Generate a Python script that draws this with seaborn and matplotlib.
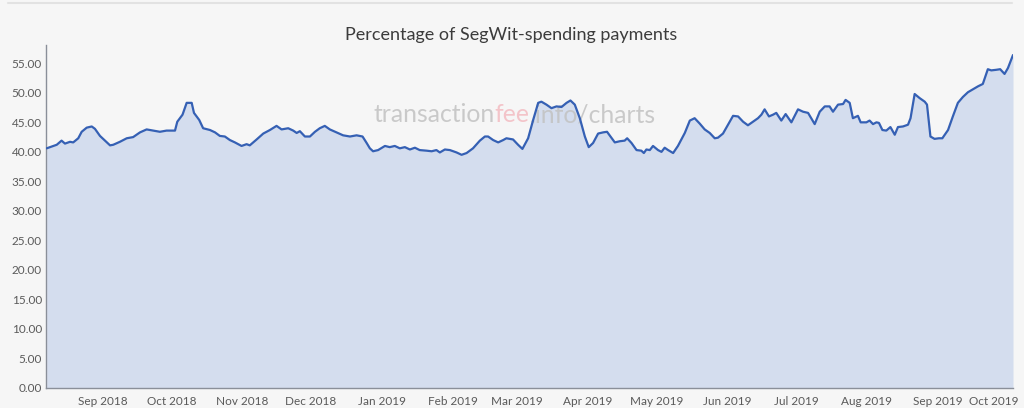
import matplotlib
matplotlib.use("Agg")
import matplotlib.pyplot as plt
import matplotlib.dates as mdates
from matplotlib.lines import Line2D
from matplotlib.transforms import ScaledTranslation
import seaborn as sns
import pandas as pd
import numpy as np

# days counted from 2018-09-01
day_offsets = [
    -24.6, -22.4, -20.2, -18.1, -16.6, -14.4, -13.0, -10.8, -9.3, -7.1, -4.9, -3.5, -1.3,
    0.9, 3.1, 4.5, 7.4, 10.4, 13.2, 16.2, 19.1, 22.0, 24.9, 27.8, 31.5, 32.5, 34.8, 36.6,
    38.8, 39.8, 42.1, 43.8, 46.8, 49.0, 51.1, 53.3, 55.5, 57.7, 60.6, 62.8, 64.2, 67.2,
    70.1, 73.0, 75.9, 78.1, 81.0, 83.2, 84.7, 86.1, 88.3, 90.5, 92.7, 94.8, 97.0, 99.2,
    102.1, 105.0, 108.0, 110.9, 113.5, 115.3, 116.7, 118.1, 120.3, 123.3, 125.4, 127.6,
    129.8, 132.0, 134.2, 136.4, 138.5, 141.5, 143.7, 145.8, 147.3, 149.5, 151.7, 154.6,
    156.8, 159.0, 161.8, 164.8, 167.0, 168.4, 170.6, 172.8, 175.0, 176.4, 179.3, 181.5,
    183.4, 185.9, 188.1, 190.3, 191.7, 193.9, 196.1, 198.3, 200.5, 202.7, 204.4, 206.3,
    208.5, 210.7, 212.4, 214.3, 216.5, 218.7, 220.4, 221.9, 223.8, 226.0, 228.1, 229.2,
    231.1, 233.3, 235.4, 236.5, 237.6, 239.1, 240.5, 242.7, 244.2, 245.6, 247.1, 249.3,
    251.4, 254.4, 256.6, 258.7, 260.9, 263.1, 265.3, 267.5, 268.9, 271.1, 273.3, 275.5,
    277.7, 279.9, 282.0, 284.2, 286.4, 287.9, 289.3, 291.2, 293.0, 294.4, 296.6, 298.5,
    301.0, 303.9, 306.1, 308.3, 311.2, 313.4, 315.6, 317.7, 319.2, 321.4, 323.6, 324.7,
    326.5, 327.9, 330.1, 331.3, 333.8, 335.2, 336.7, 338.2, 339.3, 340.8, 342.5, 344.3,
    346.2, 347.6, 349.8, 352.0, 353.1, 354.9, 357.1, 359.3, 360.3, 361.8, 363.6, 365.5,
    367.0, 369.5, 371.6, 373.8, 376.0, 378.2, 380.4, 382.6, 384.7, 386.9, 388.4, 390.6,
    392.3, 394.2, 395.7, 397.9,
]
segwit_pct = [
    40.6, 40.9, 41.2, 41.9, 41.4, 41.7, 41.6, 42.3, 43.4, 44.1, 44.3, 43.9, 42.7,
    41.9, 41.1, 41.2, 41.7, 42.3, 42.5, 43.3, 43.8, 43.6, 43.4, 43.6, 43.6, 45.1, 46.3, 48.3,
    48.3, 46.6, 45.4, 44.0, 43.7, 43.3, 42.7, 42.6, 42.0, 41.6, 41.0, 41.3, 41.1, 42.1,
    43.1, 43.7, 44.4, 43.8, 44.0, 43.6, 43.2, 43.5, 42.6, 42.6, 43.4, 44.0, 44.4, 43.8,
    43.3, 42.8, 42.6, 42.8, 42.6, 41.5, 40.6, 40.1, 40.3, 41.0, 40.8, 41.0,
    40.6, 40.8, 40.4, 40.7, 40.3, 40.2, 40.1, 40.3, 39.9, 40.4, 40.3, 39.9,
    39.5, 39.8, 40.6, 41.9, 42.6, 42.6, 42.0, 41.6, 42.0, 42.3, 42.1, 41.2,
    40.5, 42.3, 45.4, 48.3, 48.5, 48.0, 47.4, 47.7, 47.6, 48.3, 48.7, 48.0,
    45.7, 42.6, 40.8, 41.5, 43.1, 43.3, 43.4, 42.6, 41.6, 41.8, 41.9, 42.3,
    41.5, 40.3, 40.2, 39.8, 40.4, 40.3, 41.0, 40.3, 40.0, 40.7, 40.3, 39.8,
    41.0, 43.2, 45.3, 45.7, 44.8, 43.8, 43.2, 42.3, 42.4, 43.1, 44.6, 46.1,
    46.0, 45.1, 44.5, 45.1, 45.7, 46.3, 47.2, 46.0, 46.3, 46.6, 45.3, 46.4,
    45.0, 47.2, 46.8, 46.6, 44.7, 46.8, 47.7, 47.7, 46.8, 48.0, 48.1, 48.8,
    48.3, 45.7, 46.1, 45.0, 45.0, 45.3, 44.7, 45.0, 44.9, 43.7, 43.6, 44.2,
    42.9, 44.2, 44.3, 44.6, 45.7, 49.8, 49.1, 48.5, 48.0, 42.6, 42.2, 42.3,
    42.3, 43.7, 46.0, 48.3, 49.3, 50.1, 50.6, 51.1, 51.5, 54.0, 53.8, 53.9,
    54.0, 53.2, 54.2, 56.4,
]
y_ticks = [0, 5, 10, 15, 20, 25, 30, 35, 40, 45, 50, 55]
title = "Percentage of SegWit-spending payments"

df = pd.DataFrame({
    "date": pd.Timestamp("2018-09-01") + pd.to_timedelta(day_offsets, unit="D"),
    "pct": segwit_pct,
})

bg = "#f6f6f6"
sns.set_style("white", {"axes.facecolor": bg, "figure.facecolor": bg})
plt.rcParams["font.family"] = ["Lato", "DejaVu Sans"]

W, H = 1024, 408
fig = plt.figure(figsize=(W / 100, H / 100), dpi=100)
ax = fig.add_axes([46 / W, 1 - 388 / H, (1013 - 46) / W, (388 - 45) / H])

ax.fill_between(df["date"], df["pct"], 0, color="#d4ddee", zorder=1, linewidth=0)
sns.lineplot(data=df, x="date", y="pct", ax=ax, color="#3560b4", linewidth=1.6, zorder=3)

ax.set_xlim(pd.Timestamp("2018-09-01") - pd.Timedelta(days=24.9), df["date"].iloc[-1])
ax.set_ylim(0, 58.1)
ax.set_yticks(y_ticks)
ax.set_yticklabels([f"{v:.2f}" for v in y_ticks])
ax.xaxis.set_major_locator(mdates.MonthLocator())
ax.xaxis.set_major_formatter(mdates.DateFormatter("%b %Y"))
ax.set_xlabel("")
ax.set_ylabel("")

ax.tick_params(axis="both", length=0, labelsize=8.5, labelcolor="#5a5a5a")
ax.tick_params(axis="y", pad=3)
ax.tick_params(axis="x", pad=6)
for s in ["top", "right"]:
    ax.spines[s].set_visible(False)
for s in ["left", "bottom"]:
    ax.spines[s].set_color("#8a8f99")
    ax.spines[s].set_linewidth(1.0)

# keep the last month label inside the card
labels = ax.get_xticklabels()
if labels:
    labels[-1].set_transform(labels[-1].get_transform() + ScaledTranslation(-0.13, 0, fig.dpi_scale_trans))

fig.text(511 / W, 1 - 35 / H, title, ha="center", va="center", fontsize=13, color="#3c3c3c")

# watermark
renderer = fig.canvas.get_renderer()
x_px = 373
for part, col in [("transaction", "#c2c2c2"), ("fee", "#f3bcc2"), (".info/charts", "#c2c2c2")]:
    t = ax.text(x_px / W, 1 - 115 / H, part, transform=fig.transFigure, ha="left", va="center",
                fontsize=17.8, color=col, alpha=0.85, zorder=2)
    x_px += t.get_window_extent(renderer).width

fig.add_artist(Line2D([8 / W, 1012 / W], [1 - 3 / H, 1 - 3 / H], color="#e2e2e2", linewidth=1.5))

fig.savefig("out.png", dpi=100, facecolor=bg)
